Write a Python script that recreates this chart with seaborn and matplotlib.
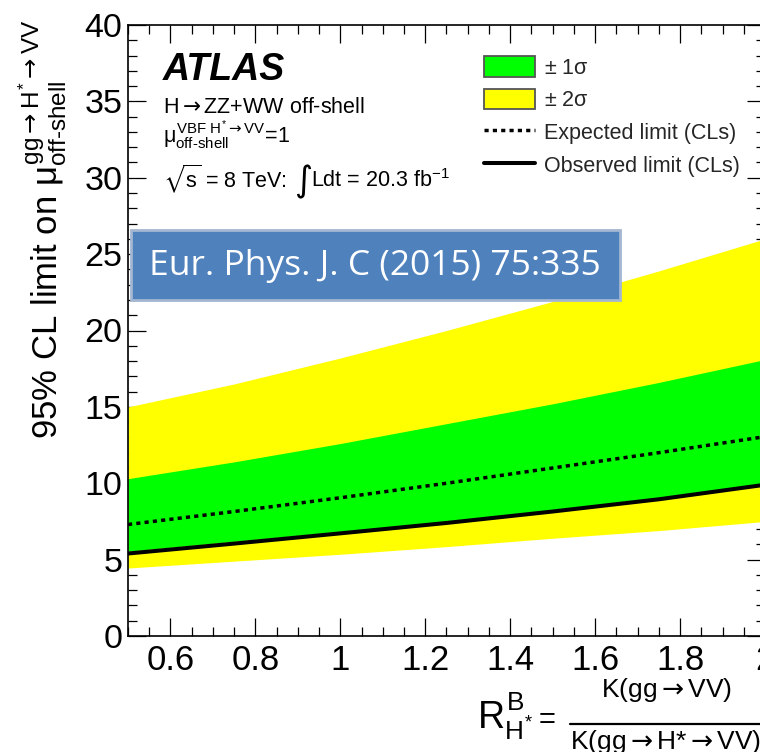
import numpy as np
import pandas as pd
import matplotlib
matplotlib.use("Agg")
import matplotlib.pyplot as plt
import seaborn as sns
from matplotlib.patches import Patch, Rectangle
from matplotlib.lines import Line2D
from matplotlib.ticker import MultipleLocator

# ---- data ----
r_b = [0.5, 0.75, 1.0, 1.25, 1.5, 1.75, 2.0]
exp_plus2 = [15.0, 16.5, 18.2, 20.0, 21.9, 23.9, 26.0]
exp_plus1 = [10.3, 11.4, 12.6, 13.9, 15.2, 16.6, 18.1]
expected = [7.3, 8.15, 9.05, 10.0, 11.0, 12.0, 13.05]
exp_minus1 = [5.55, 6.2, 6.85, 7.5, 8.25, 9.05, 10.0]
exp_minus2 = [4.45, 4.9, 5.35, 5.85, 6.4, 6.9, 7.5]
observed = [5.4, 6.05, 6.72, 7.4, 8.15, 8.95, 9.9]

x_ticks = [0.6, 0.8, 1.0, 1.2, 1.4, 1.6, 1.8, 2.0]
x_ticklabels = ["0.6", "0.8", "1", "1.2", "1.4", "1.6", "1.8", "2"]
y_ticks = [0, 5, 10, 15, 20, 25, 30, 35, 40]

df = pd.DataFrame({"r": r_b, "expected": expected, "observed": observed})

sns.set_theme(style="ticks")
plt.rcParams["font.family"] = ["Liberation Sans", "DejaVu Sans"]
plt.rcParams["mathtext.fontset"] = "custom"
plt.rcParams["mathtext.rm"] = "Liberation Sans"
plt.rcParams["mathtext.it"] = "Liberation Sans"
plt.rcParams["mathtext.bf"] = "Liberation Sans:bold"
plt.rcParams["mathtext.sf"] = "DejaVu Sans"
plt.rcParams["mathtext.fallback"] = "stixsans"
plt.rcParams["lines.scale_dashes"] = False

ARR = r"\mathsf{\rightarrow}"

W, H = 760, 752
fig = plt.figure(figsize=(W / 100, H / 100), dpi=100)
fig.patch.set_facecolor("white")


def fx(px):
    return px / W


def fy(py):
    return 1 - py / H


ax = fig.add_axes([fx(128), fy(636), (765 - 128) / W, (636 - 25) / H])
ax.set_facecolor("white")

GREEN = "#00ff00"
YELLOW = "#ffff00"
DOTS = (0, (3.0, 3.0))

ax.fill_between(r_b, exp_minus2, exp_plus2, color=YELLOW, lw=0, zorder=1)
ax.fill_between(r_b, exp_minus1, exp_plus1, color=GREEN, lw=0, zorder=2)
sns.lineplot(data=df, x="r", y="expected", ax=ax, color="black", lw=2.5,
             linestyle=DOTS, dash_capstyle="butt", zorder=3)
sns.lineplot(data=df, x="r", y="observed", ax=ax, color="black", lw=2.9, zorder=4)

ax.set_xlim(0.5, 2.0)
ax.set_ylim(0, 40)
ax.set_xticks(x_ticks)
ax.set_xticklabels(x_ticklabels)
ax.set_yticks(y_ticks)
ax.xaxis.set_minor_locator(MultipleLocator(0.05))
ax.yaxis.set_minor_locator(MultipleLocator(1))
ax.tick_params(which="both", direction="in", top=True, right=True, width=0.9,
               color="black", labelcolor="black")
ax.tick_params(axis="x", labelsize=25)
ax.tick_params(axis="y", labelsize=24.5)
ax.tick_params(which="major", length=13)
ax.tick_params(which="minor", length=6.5)
ax.tick_params(axis="x", which="major", pad=6)
ax.tick_params(axis="y", which="major", pad=4)
for s in ax.spines.values():
    s.set_linewidth(1.2)
    s.set_color("black")

ax.set_xlabel("")
ax.set_ylabel(r"95% CL limit on $\mu^{gg" + ARR + r"H^{*}" + ARR + r"VV}_{\text{off-shell}}$",
              fontsize=25, color="black")
ax.yaxis.set_label_coords(-0.093, 1.008)
ax.yaxis.label.set_horizontalalignment("right")

# legend
handles = [
    Patch(facecolor=GREEN, edgecolor="#555555", lw=1.3),
    Patch(facecolor=YELLOW, edgecolor="#555555", lw=1.3),
    Line2D([], [], color="black", lw=2.5, linestyle=DOTS, dash_capstyle="butt"),
    Line2D([], [], color="black", lw=2.9),
]
labels = [r"$\pm$ 1$\sigma$", r"$\pm$ 2$\sigma$", "Expected limit (CLs)", "Observed limit (CLs)"]
leg = ax.legend(handles, labels, loc="upper left", bbox_to_anchor=(fx(484), fy(56)),
                bbox_transform=fig.transFigure, frameon=False, fontsize=15.5,
                handlelength=2.35, handleheight=1.1, handletextpad=0.45,
                labelspacing=0.47, borderpad=0, borderaxespad=0)

# ATLAS labels
fig.text(fx(163), fy(80), "ATLAS", fontsize=27, weight="bold", style="italic",
         va="baseline", ha="left", color="black")
fig.text(fx(163), fy(113), r"H$" + ARR + r"$ZZ+WW off-shell", fontsize=15.5, va="baseline",
         ha="left", color="black")
fig.text(fx(163), fy(142),
         r"$\mu^{VBF\ H^{*}" + ARR + r"VV}_{\text{off-shell}}$=1",
         fontsize=15.5, va="baseline", ha="left", color="black")

# sqrt(s) line assembled from pieces so the integral sign can be tall
renderer = fig.canvas.get_renderer()
t1 = fig.text(fx(163), fy(187), r"$\sqrt{s}$ = 8 TeV:", fontsize=15.5,
              va="baseline", ha="left", color="black")
x1 = t1.get_window_extent(renderer).x1
t2 = fig.text((x1 + 7) / W, fy(191), "\u222b", fontsize=25, va="baseline", ha="left",
              color="black", family=["DejaVu Sans"])
x2 = t2.get_window_extent(renderer).x1
fig.text((x2 - 1) / W, fy(187), r"Ldt = 20.3 fb$^{-1}$", fontsize=15.5,
         va="baseline", ha="left", color="black")

# x-axis label (fraction)
fig.text(fx(477), fy(730), r"$R^{B}_{H^{*}}$", fontsize=27, va="baseline", ha="left",
         color="black")
fig.text(fx(539), fy(728), "=", fontsize=21, va="baseline", ha="left", color="black")
fig.text(fx(667), fy(697), r"K(gg$" + ARR + r"$VV)", fontsize=19, va="baseline",
         ha="center", color="black")
fig.add_artist(Line2D([fx(570), fx(775)], [fy(724), fy(724)], color="black", lw=1.6,
                      transform=fig.transFigure))
fig.text(fx(570), fy(749), r"K(gg$" + ARR + r"$H*$" + ARR + r"$VV)", fontsize=19,
         va="baseline", ha="left", color="black")

# publication box
fig.add_artist(Rectangle((fx(131), fy(300)), (620 - 131) / W, (300 - 230) / H,
                         transform=fig.transFigure, facecolor="#4f81bd",
                         edgecolor="#a3b6d2", lw=2.0, zorder=10))
fig.text(fx(375), fy(266), "Eur. Phys. J. C (2015) 75:335", fontsize=25.5,
         family=["Open Sans", "DejaVu Sans"], color="white", ha="center", va="center",
         zorder=11)

fig.savefig("out.png", dpi=100, facecolor="white")
